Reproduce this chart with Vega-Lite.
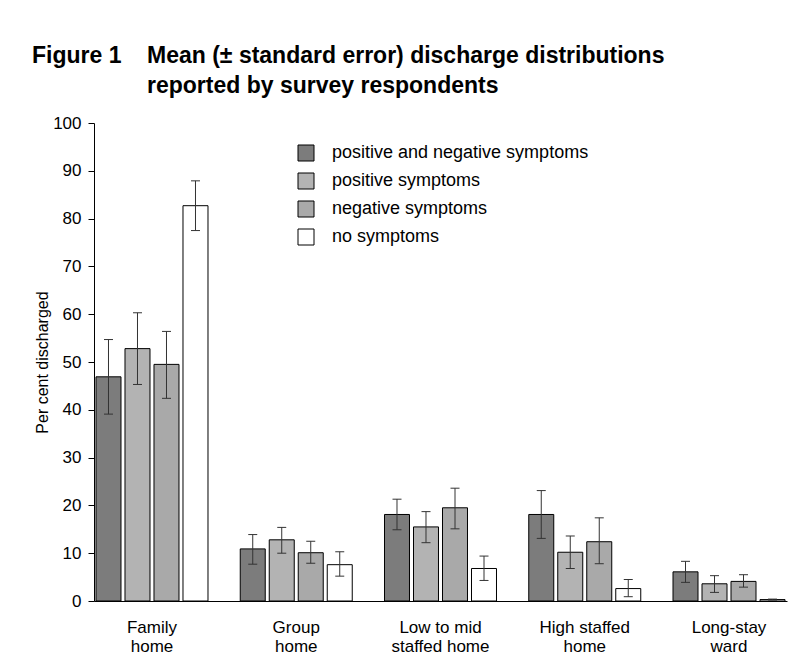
{
  "$schema": "https://vega.github.io/schema/vega-lite/v6.json",
  "width": 693,
  "height": 478,
  "autosize": {"type": "none"},
  "padding": {"left": 94, "top": 123, "right": 24, "bottom": 67},
  "background": "white",
  "title": {
    "text": ["Figure 1\u00a0\u00a0\u00a0\u00a0Mean (± standard error) discharge distributions", "\u200b\u00a0\u00a0\u00a0\u00a0\u00a0\u00a0\u00a0\u00a0\u00a0\u00a0\u00a0\u00a0\u00a0\u00a0\u00a0\u00a0\u00a0\u00a0reported by survey respondents"],
    "anchor": "start",
    "frame": "group",
    "dx": -62,
    "offset": 16,
    "font": "Liberation Sans, Arial",
    "fontSize": 23,
    "fontWeight": "bold",
    "lineHeight": 30,
    "color": "black"
  },
  "data": {
    "values": [
      {"place": "Family home", "cat": "positive and negative symptoms", "mean": 46.9, "lo": 39.1, "hi": 54.7},
      {"place": "Family home", "cat": "positive symptoms", "mean": 52.8, "lo": 45.3, "hi": 60.3},
      {"place": "Family home", "cat": "negative symptoms", "mean": 49.5, "lo": 42.4, "hi": 56.4},
      {"place": "Family home", "cat": "no symptoms", "mean": 82.7, "lo": 77.5, "hi": 87.9},
      {"place": "Group home", "cat": "positive and negative symptoms", "mean": 10.9, "lo": 7.7, "hi": 13.9},
      {"place": "Group home", "cat": "positive symptoms", "mean": 12.8, "lo": 10.0, "hi": 15.4},
      {"place": "Group home", "cat": "negative symptoms", "mean": 10.1, "lo": 7.9, "hi": 12.5},
      {"place": "Group home", "cat": "no symptoms", "mean": 7.6, "lo": 5.2, "hi": 10.3},
      {"place": "Low to mid staffed home", "cat": "positive and negative symptoms", "mean": 18.1, "lo": 14.9, "hi": 21.3},
      {"place": "Low to mid staffed home", "cat": "positive symptoms", "mean": 15.5, "lo": 12.2, "hi": 18.7},
      {"place": "Low to mid staffed home", "cat": "negative symptoms", "mean": 19.5, "lo": 15.1, "hi": 23.6},
      {"place": "Low to mid staffed home", "cat": "no symptoms", "mean": 6.8, "lo": 4.3, "hi": 9.4},
      {"place": "High staffed home", "cat": "positive and negative symptoms", "mean": 18.1, "lo": 13.1, "hi": 23.1},
      {"place": "High staffed home", "cat": "positive symptoms", "mean": 10.2, "lo": 6.8, "hi": 13.6},
      {"place": "High staffed home", "cat": "negative symptoms", "mean": 12.4, "lo": 7.8, "hi": 17.4},
      {"place": "High staffed home", "cat": "no symptoms", "mean": 2.6, "lo": 0.9, "hi": 4.5},
      {"place": "Long-stay ward", "cat": "positive and negative symptoms", "mean": 6.1, "lo": 3.9, "hi": 8.3},
      {"place": "Long-stay ward", "cat": "positive symptoms", "mean": 3.6, "lo": 1.8, "hi": 5.3},
      {"place": "Long-stay ward", "cat": "negative symptoms", "mean": 4.1, "lo": 2.9, "hi": 5.5},
      {"place": "Long-stay ward", "cat": "no symptoms", "mean": 0.3, "lo": 0.2, "hi": 0.4}
    ]
  },
  "encoding": {
    "x": {
      "field": "place",
      "type": "nominal",
      "sort": null,
      "scale": {"paddingInner": 0.2236, "paddingOuter": 0.0138},
      "axis": {
        "title": null,
        "labelAngle": 0,
        "ticks": false,
        "domainColor": "black",
        "labelFont": "Liberation Sans, Arial",
        "labelFontSize": 17,
        "labelColor": "black",
        "labelPadding": 18,
        "labelLineHeight": 19,
        "labelBaseline": "top",
        "labelExpr": "datum.value == 'Low to mid staffed home' ? ['Low to mid', 'staffed home'] : datum.value == 'High staffed home' ? ['High staffed', 'home'] : split(datum.value, ' ')"
      }
    },
    "xOffset": {
      "field": "cat",
      "type": "nominal",
      "scale": {
        "domain": ["positive and negative symptoms", "positive symptoms", "negative symptoms", "no symptoms"],
        "paddingInner": 0.138,
        "paddingOuter": 0
      }
    }
  },
  "layer": [
    {
      "mark": {"type": "bar", "stroke": "black", "strokeWidth": 1},
      "encoding": {
        "y": {
          "field": "mean",
          "type": "quantitative",
          "scale": {"domain": [0, 100]},
          "axis": {
            "title": "Per cent discharged",
            "values": [0, 10, 20, 30, 40, 50, 60, 70, 80, 90, 100],
            "grid": false,
            "domainColor": "black",
            "tickColor": "black",
            "tickSize": 6,
            "labelFont": "Liberation Sans, Arial",
            "labelFontSize": 17,
            "labelColor": "black",
            "labelPadding": 7,
            "titleFont": "Liberation Sans, Arial",
            "titleFontSize": 16,
            "titleFontWeight": "normal",
            "titleColor": "black",
            "titlePadding": 2
          }
        },
        "fill": {
          "field": "cat",
          "type": "nominal",
          "scale": {
            "domain": ["positive and negative symptoms", "positive symptoms", "negative symptoms", "no symptoms"],
            "range": ["#7c7c7c", "#b3b3b3", "#a9a9a9", "#ffffff"]
          },
          "legend": {
            "title": null,
            "orient": "none",
            "legendX": 203,
            "legendY": 21,
            "direction": "vertical",
            "symbolType": "square",
            "symbolSize": 256,
            "symbolStrokeColor": "black",
            "symbolStrokeWidth": 1,
            "symbolOpacity": 1,
            "labelFont": "Liberation Sans, Arial",
            "labelFontSize": 18,
            "labelColor": "black",
            "labelOffset": 17,
            "rowPadding": 8,
            "labelLimit": 400
          }
        }
      }
    },
    {
      "mark": {"type": "rule", "color": "#333333", "strokeWidth": 1},
      "encoding": {
        "y": {"field": "lo", "type": "quantitative"},
        "y2": {"field": "hi"}
      }
    },
    {
      "mark": {"type": "tick", "orient": "horizontal", "size": 9, "thickness": 1, "color": "#333333", "opacity": 1},
      "encoding": {"y": {"field": "lo", "type": "quantitative"}}
    },
    {
      "mark": {"type": "tick", "orient": "horizontal", "size": 9, "thickness": 1, "color": "#333333", "opacity": 1},
      "encoding": {"y": {"field": "hi", "type": "quantitative"}}
    }
  ],
  "config": {
    "view": {"stroke": null}
  }
}
